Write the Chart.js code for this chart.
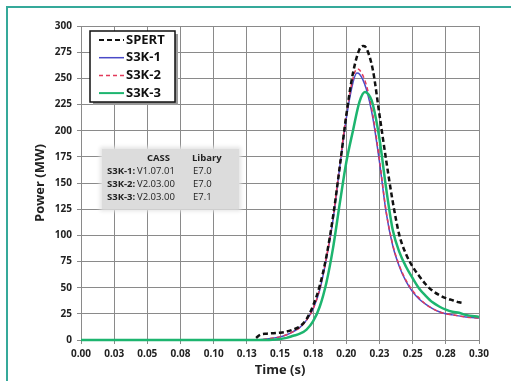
<!DOCTYPE html>
<html>
<head>
<meta charset="utf-8">
<script src="https://cdn.jsdelivr.net/npm/chart.js@4.4.1/dist/chart.umd.min.js"></script>
<style>
  html, body { margin: 0; padding: 0; background: #fff; }
  #wrap { position: relative; width: 511px; height: 381px; overflow: hidden; }
  #frame { position: absolute; left: 6px; top: 6px; width: 520px; height: 400px;
           border-top: 2px solid #35a99a; border-left: 2px solid #35a99a; pointer-events: none; }
  #info { position: absolute; left: 102px; top: 149px; width: 137px; height: 60px;
          background: #dcdcdc; box-shadow: 0 0 4px 2px #e4e4e4;
          font-family: "Open Sans", sans-serif; font-size: 9.5px; color: #222; }
  #info span { position: absolute; white-space: nowrap; line-height: 12px; }
  #info .b { font-weight: bold; }
</style>
</head>
<body>
<div id="wrap">
  <canvas id="c" width="511" height="381"></canvas>
  <div id="frame"></div>
  <div id="info">
    <span class="b" style="left:45px;top:3px">CASS</span>
    <span class="b" style="left:90px;top:3px">Libary</span>
    <span class="b" style="left:5px;top:16px">S3K-1:</span>
    <span style="left:35px;top:16px">V1.07.01</span>
    <span style="left:91px;top:16px">E7.0</span>
    <span class="b" style="left:5px;top:29px">S3K-2:</span>
    <span style="left:35px;top:29px">V2.03.00</span>
    <span style="left:91px;top:29px">E7.0</span>
    <span class="b" style="left:5px;top:42px">S3K-3:</span>
    <span style="left:35px;top:42px">V2.03.00</span>
    <span style="left:91px;top:42px">E7.1</span>
  </div>
</div>
<script>
// 刻度
const xTickValues = [0, 0.025, 0.05, 0.075, 0.1, 0.125, 0.15, 0.175, 0.2, 0.225, 0.25, 0.275, 0.3];
const xTickLabels = ['0.00', '0.03', '0.05', '0.08', '0.10', '0.13', '0.15', '0.18', '0.20', '0.23', '0.25', '0.28', '0.30'];

// SPERT 实验数据
const spertTime  = [0.132, 0.135, 0.14, 0.145, 0.15, 0.155, 0.16, 0.165, 0.17, 0.175, 0.18, 0.185, 0.19, 0.195, 0.2, 0.205, 0.21, 0.213, 0.215, 0.22, 0.225, 0.23, 0.235, 0.24, 0.245, 0.25, 0.255, 0.26, 0.265, 0.27, 0.275, 0.28, 0.285, 0.289];
const spertPower = [2, 5, 6, 6.5, 7, 8, 10, 13, 20, 33, 52, 80, 118, 165, 215, 255, 278, 281, 279, 258, 215, 172, 132, 100, 82, 70, 61, 53, 47, 43, 40, 38, 36, 35];

// S3K-1
const s3k1Time  = [0, 0.13, 0.14, 0.15, 0.155, 0.16, 0.165, 0.17, 0.175, 0.18, 0.185, 0.19, 0.195, 0.2, 0.205, 0.208, 0.21, 0.215, 0.22, 0.225, 0.23, 0.235, 0.24, 0.245, 0.25, 0.255, 0.26, 0.265, 0.27, 0.275, 0.28, 0.29, 0.3];
const s3k1Power = [0, 0, 1, 3, 5, 8, 12, 19, 30, 48, 78, 115, 165, 212, 246, 255, 254, 240, 212, 170, 122, 90, 70, 56, 46, 39, 34, 30, 27, 25, 24, 22, 21];

// S3K-2
const s3k2Time  = [0, 0.13, 0.14, 0.15, 0.155, 0.16, 0.165, 0.17, 0.175, 0.18, 0.185, 0.19, 0.195, 0.2, 0.205, 0.208, 0.21, 0.215, 0.22, 0.225, 0.23, 0.235, 0.24, 0.245, 0.25, 0.255, 0.26, 0.265, 0.27, 0.275, 0.28, 0.29, 0.3];
const s3k2Power = [0, 0, 1, 3, 5, 8, 12, 19, 30, 49, 79, 117, 167, 215, 250, 259, 258, 244, 215, 172, 123, 91, 71, 57, 47, 40, 34, 30, 27, 25, 24, 22, 21];

// S3K-3
const s3k3Time  = [0, 0.14, 0.15, 0.155, 0.16, 0.165, 0.17, 0.175, 0.18, 0.185, 0.19, 0.195, 0.2, 0.205, 0.21, 0.214, 0.218, 0.22, 0.225, 0.23, 0.235, 0.24, 0.245, 0.25, 0.255, 0.26, 0.265, 0.27, 0.275, 0.28, 0.285, 0.29, 0.3];
const s3k3Power = [0, 0, 1, 2, 4, 6, 10, 18, 32, 55, 88, 130, 170, 200, 228, 237, 232, 225, 192, 145, 105, 84, 70, 59, 49, 42, 36, 32, 29, 27, 26, 24, 22];

const seriesNames = ['SPERT', 'S3K-1', 'S3K-2', 'S3K-3'];

function toPoints(ts, vs) {
    return ts.map((t, i) => ({ x: t, y: vs[i] }));
}

// 图内图例
const boxLegend = {
    id: 'boxLegend',
    afterDatasetsDraw(chart) {
        const ctx = chart.ctx;
        const x0 = 90, y0 = 31, w = 85, h = 71;
        ctx.save();
        ctx.fillStyle = '#9a9a9a';
        ctx.fillRect(x0 + 3, y0 + 3, w, h);
        ctx.fillStyle = '#fff';
        ctx.fillRect(x0, y0, w, h);
        ctx.lineWidth = 1.5;
        ctx.strokeStyle = '#111';
        ctx.strokeRect(x0, y0, w, h);
        ctx.font = 'bold 13px "Open Sans", sans-serif';
        ctx.textBaseline = 'middle';
        chart.data.datasets.forEach((ds, row) => {
            const y = y0 + 9 + row * 17.7;
            ctx.beginPath();
            ctx.setLineDash(ds.borderDash || []);
            ctx.strokeStyle = ds.borderColor;
            ctx.lineWidth = Math.min(ds.borderWidth, 2);
            ctx.moveTo(x0 + 9, y);
            ctx.lineTo(x0 + 34, y);
            ctx.stroke();
            ctx.setLineDash([]);
            ctx.fillStyle = '#111';
            ctx.fillText(ds.label, x0 + 36, y);
        });
        ctx.restore();
    }
};

const ctx = document.getElementById('c').getContext('2d');
new Chart(ctx, {
    type: 'line',
    data: {
        datasets: [
            {
                label: seriesNames[0],
                data: toPoints(spertTime, spertPower),
                borderColor: '#111111',
                borderWidth: 2.5,
                borderDash: [5, 3],
                order: 1,
                clip: false
            },
            {
                label: seriesNames[1],
                data: toPoints(s3k1Time, s3k1Power),
                borderColor: '#4a4ac8',
                borderWidth: 1.5,
                order: 3,
                clip: false
            },
            {
                label: seriesNames[2],
                data: toPoints(s3k2Time, s3k2Power),
                borderColor: '#e23a5a',
                borderWidth: 1.5,
                borderDash: [4, 3],
                order: 2,
                clip: false
            },
            {
                label: seriesNames[3],
                data: toPoints(s3k3Time, s3k3Power),
                borderColor: '#1db56f',
                borderWidth: 2.5,
                order: 0,
                clip: false
            }
        ]
    },
    options: {
        responsive: false,
        animation: false,
        elements: {
            point: { radius: 0 },
            line: { cubicInterpolationMode: 'monotone', fill: false }
        },
        layout: { padding: { left: 32, right: 32, top: 26, bottom: 3 } },
        plugins: {
            legend: { display: false },
            tooltip: { enabled: false }
        },
        scales: {
            x: {
                type: 'linear',
                min: 0,
                max: 0.3,
                afterBuildTicks: scale => {
                    scale.ticks = xTickValues.map(v => ({ value: v }));
                },
                afterFit: scale => { scale.height = 38; },
                grid: { color: '#8a8a8a', lineWidth: 1, tickLength: 4 },
                border: { color: '#8a8a8a' },
                ticks: {
                    maxRotation: 0,
                    autoSkip: false,
                    padding: 4,
                    color: '#222',
                    font: { family: '"Open Sans", sans-serif', size: 10, weight: 'bold' },
                    callback: (v, i) => xTickLabels[i]
                },
                title: {
                    display: true,
                    text: 'Time (s)',
                    color: '#222',
                    padding: 0,
                    font: { family: '"Open Sans", sans-serif', size: 13, weight: 'bold' }
                }
            },
            y: {
                min: 0,
                max: 300,
                afterFit: scale => { scale.width = 49; },
                grid: { color: '#8a8a8a', lineWidth: 1, tickLength: 4 },
                border: { color: '#8a8a8a' },
                ticks: {
                    stepSize: 25,
                    padding: 5,
                    color: '#222',
                    font: { family: '"Open Sans", sans-serif', size: 10, weight: 'bold' }
                },
                title: {
                    display: true,
                    text: 'Power (MW)',
                    color: '#222',
                    padding: 0,
                    font: { family: '"Open Sans", sans-serif', size: 13, weight: 'bold' }
                }
            }
        }
    },
    plugins: [boxLegend]
});
</script>
</body>
</html>
